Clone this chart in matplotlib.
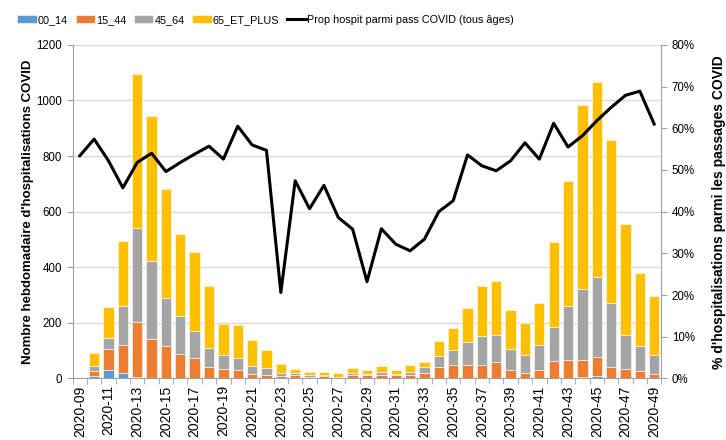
import matplotlib
matplotlib.use("Agg")
import matplotlib.pyplot as plt
import matplotlib.ticker as mticker
import numpy as np

plt.rcParams["font.family"] = ["Liberation Sans", "DejaVu Sans"]

weeks = [f"2020-{w:02d}" for w in range(9, 50)]

age_00_14 = [0, 8, 32, 18, 4, 2, 1, 0, 0, 0, 0, 2, 0, 0, 3, 0, 0, 0, 0, 0, 0,
             0, 0, 0, 0, 0, 0, 0, 0, 0, 0, 0, 0, 2, 2, 5, 10, 0, 0, 0, 0]
age_15_44 = [6, 20, 72, 101, 200, 138, 114, 86, 72, 40, 35, 30, 16, 11, 5, 11, 6, 8, 4, 11, 12,
             13, 11, 11, 20, 42, 50, 47, 47, 58, 32, 20, 32, 59, 66, 63, 66, 42, 35, 25, 16]
age_45_64 = [0, 18, 40, 142, 338, 281, 176, 139, 97, 70, 48, 42, 30, 25, 10, 7, 5, 6, 2, 9, 5,
             10, 6, 12, 20, 40, 52, 85, 107, 99, 75, 63, 87, 123, 194, 252, 290, 228, 122, 93, 67]
age_65_plus = [0, 45, 114, 232, 554, 523, 391, 295, 287, 221, 114, 117, 92, 66, 34, 16, 12, 10, 14, 16, 13,
               20, 15, 24, 20, 52, 80, 122, 178, 195, 140, 116, 152, 307, 448, 663, 699, 588, 399, 262, 215]

prop_hospit = [53.4, 57.4, 52.2, 45.7, 51.8, 54.0, 49.6, 51.8, 53.8, 55.7, 52.6, 60.5, 56.0, 54.7,
               20.6, 47.4, 40.7, 46.3, 38.6, 35.8, 23.2, 35.9, 32.2, 30.6, 33.4, 40.0, 42.6,
               53.6, 51.0, 49.8, 52.2, 56.5, 52.6, 61.2, 55.5, 58.2, 61.8, 65.0, 67.9, 68.9, 61.0]

colors = ["#5B9BD5", "#ED7D31", "#A5A5A5", "#FFC000"]
labels = ["00_14", "15_44", "45_64", "65_ET_PLUS"]

fig = plt.figure(figsize=(7.26, 4.4), dpi=100)
ax = fig.add_axes([0.100, 0.140, 0.811, 0.758])

x = np.arange(len(weeks))
bottom = np.zeros(len(weeks))
for vals, c, lab in zip([age_00_14, age_15_44, age_45_64, age_65_plus], colors, labels):
    vals = np.array(vals, dtype=float)
    ax.bar(x, vals, bottom=bottom, width=0.72, color=c, label=lab,
           edgecolor="white", linewidth=0.4, zorder=2)
    bottom += vals

ax.set_xlim(-0.5, len(weeks) - 0.5)
ax.set_ylim(0, 1200)
ax.set_yticks(range(0, 1201, 200))
ax.grid(axis="y", color="#d9d9d9", lw=1.0, zorder=0)
ax.set_xticks(x[::2])
ax.set_xticklabels(weeks[::2], rotation=90, fontsize=10)
ax.set_xticks(np.arange(-0.5, len(weeks), 1), minor=True)
ax.tick_params(axis="x", which="major", length=0, pad=5)
ax.tick_params(axis="x", which="minor", length=4, color="#a0a0a0")
ax.tick_params(axis="y", labelsize=8.3, length=4, color="#a0a0a0")
for s in ["top", "right"]:
    ax.spines[s].set_visible(False)
for s in ["left", "bottom"]:
    ax.spines[s].set_color("#a0a0a0")
ax.set_ylabel("Nombre hebdomadaire d'hospitalisations COVID", fontsize=9.5,
              fontweight="bold", labelpad=2)

ax2 = ax.twinx()
ax2.plot(x, prop_hospit, color="black", lw=2.2, zorder=3,
         label="Prop hospit parmi pass COVID (tous âges)")
ax2.set_ylim(0, 80)
ax2.set_yticks(range(0, 81, 10))
ax2.yaxis.set_major_formatter(mticker.FuncFormatter(lambda v, p: f"{v:.0f}%"))
ax2.tick_params(axis="y", labelsize=8.3, length=4, color="#a0a0a0")
for s in ["top", "left", "bottom"]:
    ax2.spines[s].set_visible(False)
ax2.spines["right"].set_color("#a0a0a0")
ax2.set_ylabel("% d'hospitalisations parmi les passages COVID", fontsize=10,
               fontweight="bold", labelpad=12)

h1, l1 = ax.get_legend_handles_labels()
h2, l2 = ax2.get_legend_handles_labels()
fig.legend(h1 + h2, l1 + l2, loc="center", bbox_to_anchor=(0.366, 0.955),
           ncol=5, frameon=False, fontsize=7.8, handlelength=1.8,
           handleheight=0.7, handletextpad=0.1, columnspacing=0.7)

fig.savefig("out.png", dpi=100)
